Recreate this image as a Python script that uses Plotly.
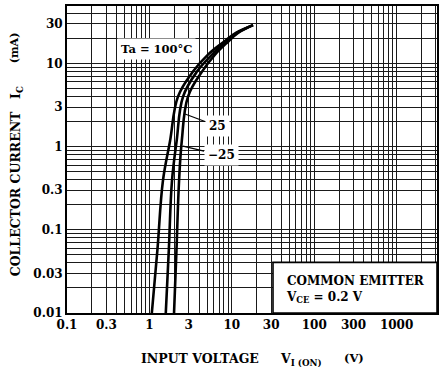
import math
import plotly.graph_objects as go

# ---- data ----
collector_current_mA = [0.01, 0.057, 0.39, 1.17, 4.0, 8.0, 12.8, 18.3, 23.4, 29.0]
vin_ta_100 = [1.07, 1.25, 1.46, 1.78, 2.22, 3.38, 5.14, 8.04, 11.2, 18.1]
vin_ta_25 = [1.58, 1.72, 1.88, 2.14, 2.56, 3.78, 5.75, 8.5, 11.6, 18.1]
vin_ta_m25 = [1.99, 2.13, 2.29, 2.47, 2.94, 4.35, 6.25, 9.0, 11.9, 18.1]

x_tick_vals = [0.1, 0.3, 1, 3, 10, 30, 100, 300, 1000]
x_tick_text = ["0.1", "0.3", "1", "3", "10", "30", "100", "300", "1000"]
y_tick_vals = [0.01, 0.03, 0.1, 0.3, 1, 3, 10, 30]
y_tick_text = ["0.01", "0.03", "0.1", "0.3", "1", "3", "10", "30"]

FONT = "DejaVu Serif"

x_minor = [m * 10 ** e for e in range(-1, 4) for m in range(1, 10)]
y_minor = [m * 10 ** e for e in range(-2, 2) for m in range(1, 10)]

fig = go.Figure()
for v in (vin_ta_100, vin_ta_25, vin_ta_m25):
    fig.add_trace(go.Scatter(
        x=v, y=collector_current_mA, mode="lines",
        line=dict(color="black", width=2.6, shape="spline", smoothing=1.1),
        hoverinfo="skip", showlegend=False))

axis_common = dict(
    type="log", showline=True, linecolor="black", linewidth=2, mirror=True,
    showgrid=True, gridcolor="#1a1a1a", gridwidth=1.4, zeroline=False,
    ticks="", tickfont=dict(family=FONT, size=12, color="black", weight="bold"),
)
fig.update_xaxes(**axis_common, range=[-1, 3.49], tickmode="array",
                 tickvals=x_tick_vals, ticktext=x_tick_text,
                 minor=dict(tickmode="array", tickvals=x_minor, showgrid=True,
                            gridcolor="#1a1a1a", gridwidth=1, ticks=""))
fig.update_yaxes(**axis_common, range=[-2, 1.692], tickmode="array",
                 tickvals=y_tick_vals, ticktext=y_tick_text,
                 minor=dict(tickmode="array", tickvals=y_minor, showgrid=True,
                            gridcolor="#1a1a1a", gridwidth=1, ticks=""))

W, H = 445, 367
L, R, T, B = 67, 8, 4, 54
pw, ph = W - L - R, H - T - B


def px(xp):
    return (xp - L) / pw


def py(yp):
    return (H - B - yp) / ph


def f(size):
    return dict(family=FONT, size=size, color="black", weight="bold")


annotations = []
# curve labels
annotations.append(dict(x=0.080, y=1.178, xref="x", yref="y", text="Ta = 100°C",
                        showarrow=False, bgcolor="white", borderpad=3, font=f(11.5)))
annotations.append(dict(x=0.432, y=0.393, xref="x", yref="y", text="25",
                        showarrow=True, arrowhead=0, arrowwidth=1.2, arrowcolor="black",
                        ax=32, ay=12, standoff=0, bgcolor="white", borderpad=3, font=f(12)))
annotations.append(dict(x=0.408, y=0.007, xref="x", yref="y", text="\u221225",
                        showarrow=True, arrowhead=0, arrowwidth=1.2, arrowcolor="black",
                        ax=38, ay=9, standoff=0, bgcolor="white", borderpad=3, font=f(12)))
# condition box text
annotations.append(dict(x=px(284), y=py(289), xref="paper", yref="paper",
                        xanchor="left", yanchor="middle", align="left", showarrow=False,
                        text="COMMON EMITTER<br>V<sub>CE</sub> = 0.2 V", font=f(12)))
# axis titles
annotations.append(dict(x=px(200), y=py(349), xref="paper", yref="paper",
                        xanchor="center", yanchor="top", showarrow=False,
                        text="INPUT VOLTAGE", font=f(12.5)))
annotations.append(dict(x=px(301), y=py(349), xref="paper", yref="paper",
                        xanchor="center", yanchor="top", showarrow=False,
                        text="V<sub>I (ON)</sub>", font=f(12.5)))
annotations.append(dict(x=px(354), y=py(349), xref="paper", yref="paper",
                        xanchor="center", yanchor="top", showarrow=False,
                        text="(V)", font=f(11.5)))
annotations.append(dict(x=px(6), y=py(193), xref="paper", yref="paper",
                        xanchor="left", yanchor="middle", showarrow=False, textangle=-90,
                        text="COLLECTOR CURRENT", font=f(12.5)))
annotations.append(dict(x=px(6), y=py(91), xref="paper", yref="paper",
                        xanchor="left", yanchor="middle", showarrow=False, textangle=-90,
                        text="I<sub>C</sub>", font=f(12.5)))
annotations.append(dict(x=px(6), y=py(46), xref="paper", yref="paper",
                        xanchor="left", yanchor="middle", showarrow=False, textangle=-90,
                        text="(mA)", font=f(11)))

shapes = [dict(type="rect", xref="paper", yref="paper", x0=px(273), x1=1, y0=0, y1=py(262),
               fillcolor="white", line=dict(color="black", width=1.6), layer="above")]

fig.update_layout(
    width=W, height=H, margin=dict(l=L, r=R, t=T, b=B, pad=0),
    paper_bgcolor="white", plot_bgcolor="white",
    annotations=annotations, shapes=shapes, showlegend=False,
)

fig.write_html("out.html", config={"displayModeBar": False},
               post_script="document.body.style.margin='0';document.body.style.padding='0';")
